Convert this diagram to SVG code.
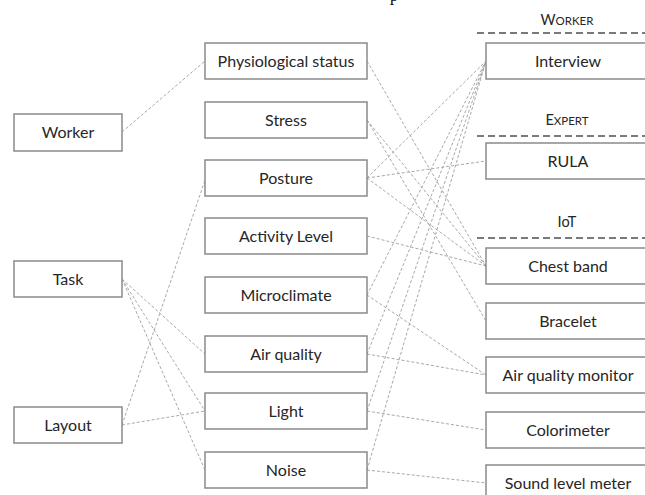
<svg xmlns="http://www.w3.org/2000/svg" width="645" height="495" viewBox="0 0 645 495">
<style>
.box{fill:#fff;stroke:#8a8a8a;stroke-width:1.5}
.lbl{font-family:Lato,"Liberation Sans",sans-serif;font-size:16px;fill:#262626;text-anchor:middle}
.hdr{font-family:Lato,"Liberation Sans",sans-serif;font-size:14.5px;fill:#262626;text-anchor:middle}
.sc{font-size:11.5px}
.sep{stroke:#7a7a7a;stroke-width:2;stroke-dasharray:7 4;fill:none}
.con line{stroke:#a8a8a8;stroke-width:1;stroke-dasharray:3 2;fill:none}
</style>
<rect width="645" height="495" fill="#fff"/>
<text x="390" y="0.5" font-family="Liberation Serif,serif" font-size="16" fill="#000">p</text>
<g id="connectors" class="con">
<line x1="122" y1="132" x2="205" y2="61"/>
<line x1="122" y1="279" x2="205" y2="354"/>
<line x1="122" y1="279" x2="205" y2="411"/>
<line x1="122" y1="279" x2="205" y2="470"/>
<line x1="122" y1="425" x2="205" y2="180"/>
<line x1="122" y1="425" x2="205" y2="411"/>
<line x1="367" y1="61" x2="486" y2="266"/>
<line x1="367" y1="120" x2="486" y2="266"/>
<line x1="367" y1="120" x2="486" y2="321"/>
<line x1="367" y1="178" x2="486" y2="61"/>
<line x1="367" y1="178" x2="486" y2="161"/>
<line x1="367" y1="178" x2="486" y2="266"/>
<line x1="367" y1="236" x2="486" y2="266"/>
<line x1="367" y1="295" x2="486" y2="61"/>
<line x1="367" y1="295" x2="486" y2="375"/>
<line x1="367" y1="354" x2="486" y2="61"/>
<line x1="367" y1="354" x2="486" y2="375"/>
<line x1="367" y1="411" x2="486" y2="61"/>
<line x1="367" y1="411" x2="486" y2="430"/>
<line x1="367" y1="470" x2="486" y2="61"/>
<line x1="367" y1="470" x2="486" y2="483"/>
</g>
<g id="headers">
<line class="sep" x1="477" y1="33" x2="645" y2="33"/>
<line class="sep" x1="477" y1="136" x2="645" y2="136"/>
<line class="sep" x1="477" y1="238" x2="645" y2="238"/>
<text class="hdr" x="567" y="25">W<tspan class="sc">ORKER</tspan></text>
<text class="hdr" x="567" y="125">E<tspan class="sc">XPERT</tspan></text>
<text class="hdr" x="567" y="227">IoT</text>
</g>
<g id="worker"><rect class="box" x="14" y="114" width="108" height="37"/><text class="lbl" x="68" y="138">Worker</text></g>
<g id="task"><rect class="box" x="14" y="261" width="108" height="36"/><text class="lbl" x="68" y="284.5">Task</text></g>
<g id="layout"><rect class="box" x="14" y="407" width="108" height="36"/><text class="lbl" x="68" y="430.5">Layout</text></g>
<g id="physio"><rect class="box" x="205" y="43" width="162" height="36"/><text class="lbl" x="286" y="66.5">Physiological status</text></g>
<g id="stress"><rect class="box" x="205" y="102" width="162" height="36"/><text class="lbl" x="286" y="125.5">Stress</text></g>
<g id="posture"><rect class="box" x="205" y="160" width="162" height="36"/><text class="lbl" x="286" y="183.5">Posture</text></g>
<g id="activity"><rect class="box" x="205" y="218" width="162" height="36"/><text class="lbl" x="286" y="241.5">Activity Level</text></g>
<g id="microclimate"><rect class="box" x="205" y="277" width="162" height="36"/><text class="lbl" x="286" y="300.5">Microclimate</text></g>
<g id="airquality"><rect class="box" x="205" y="336" width="162" height="36"/><text class="lbl" x="286" y="359.5">Air quality</text></g>
<g id="light"><rect class="box" x="205" y="393" width="162" height="36"/><text class="lbl" x="286" y="416.5">Light</text></g>
<g id="noise"><rect class="box" x="205" y="452" width="162" height="36"/><text class="lbl" x="286" y="475.5">Noise</text></g>
<g id="interview"><rect class="box" x="486" y="43" width="164" height="36"/><text class="lbl" x="568" y="66.5">Interview</text></g>
<g id="rula"><rect class="box" x="486" y="143" width="164" height="36"/><text class="lbl" x="568" y="166.5">RULA</text></g>
<g id="chestband"><rect class="box" x="486" y="248" width="164" height="36"/><text class="lbl" x="568" y="271.5">Chest band</text></g>
<g id="bracelet"><rect class="box" x="486" y="303" width="164" height="36"/><text class="lbl" x="568" y="326.5">Bracelet</text></g>
<g id="aqmonitor"><rect class="box" x="486" y="357" width="164" height="36"/><text class="lbl" x="568" y="380.5">Air quality monitor</text></g>
<g id="colorimeter"><rect class="box" x="486" y="412" width="164" height="36"/><text class="lbl" x="568" y="435.5">Colorimeter</text></g>
<g id="soundmeter"><rect class="box" x="486" y="465" width="164" height="36"/><text class="lbl" x="568" y="488.5">Sound level meter</text></g>
</svg>
